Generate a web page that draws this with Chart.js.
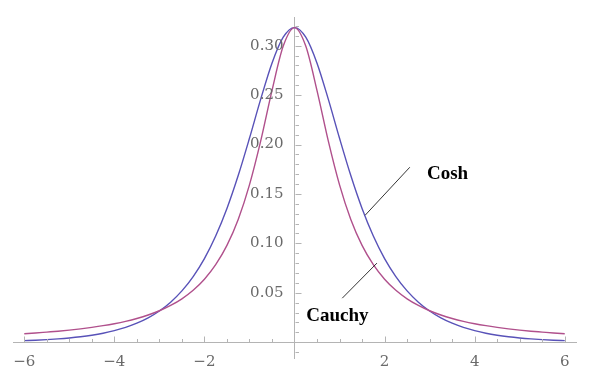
<!DOCTYPE html>
<html>
<head>
<meta charset="utf-8">
<script src="https://cdn.jsdelivr.net/npm/chart.js@4/dist/chart.umd.min.js"></script>
<style>
html,body{margin:0;padding:0;background:#fff;}
#wrap{width:589px;height:389px;position:relative;}
</style>
</head>
<body>
<div id="wrap"><canvas id="c" width="589" height="389"></canvas></div>
<script>
const xs = [-6,-5.75,-5.5,-5.25,-5,-4.75,-4.5,-4.25,-4,-3.75,-3.5,-3.25,-3,-2.75,-2.5,-2.25,-2,-1.75,-1.5,-1.25,-1,-0.75,-0.5,-0.25,0,0.25,0.5,0.75,1,1.25,1.5,1.75,2,2.25,2.5,2.75,3,3.25,3.5,3.75,4,4.25,4.5,4.75,5,5.25,5.5,5.75,6];
const cosh = [0.00158,0.00203,0.00260,0.00334,0.00429,0.00551,0.00707,0.00908,0.0117,0.0150,0.0192,0.0246,0.0316,0.0405,0.0519,0.0664,0.0846,0.1074,0.1353,0.1686,0.2063,0.2459,0.2823,0.3086,0.3183,0.3086,0.2823,0.2459,0.2063,0.1686,0.1353,0.1074,0.0846,0.0664,0.0519,0.0405,0.0316,0.0246,0.0192,0.0150,0.0117,0.00908,0.00707,0.00551,0.00429,0.00334,0.00260,0.00203,0.00158];
const cauchy = [0.0086,0.0093,0.0102,0.0111,0.0122,0.0135,0.0150,0.0167,0.0187,0.0211,0.0240,0.0275,0.0318,0.0372,0.0439,0.0525,0.0637,0.0784,0.0979,0.1242,0.1592,0.2037,0.2546,0.2996,0.3183,0.2996,0.2546,0.2037,0.1592,0.1242,0.0979,0.0784,0.0637,0.0525,0.0439,0.0372,0.0318,0.0275,0.0240,0.0211,0.0187,0.0167,0.0150,0.0135,0.0122,0.0111,0.0102,0.0093,0.0086];
const xTickLabels = [-6,-4,-2,2,4,6];
const yTickLabels = [0.05,0.10,0.15,0.20,0.25,0.30];
const xMinorTicks = [-6,-5.5,-5,-4.5,-4,-3.5,-3,-2.5,-2,-1.5,-1,-0.5,0.5,1,1.5,2,2.5,3,3.5,4,4.5,5,5.5,6];
const yMinorTicks = [-0.01,0.01,0.02,0.03,0.04,0.05,0.06,0.07,0.08,0.09,0.10,0.11,0.12,0.13,0.14,0.15,0.16,0.17,0.18,0.19,0.20,0.21,0.22,0.23,0.24,0.25,0.26,0.27,0.28,0.29,0.30,0.31,0.32];

const AXIS = '#b4b4b4';
const LABEL = '#6a6a6a';

const annot = {
  id: 'annot',
  afterDraw(chart) {
    const ctx = chart.ctx, sx = chart.scales.x, sy = chart.scales.y;
    const X = v => sx.getPixelForValue(v), Y = v => sy.getPixelForValue(v);
    ctx.save();
    ctx.strokeStyle = AXIS; ctx.lineWidth = 1;
    const x0 = Math.round(X(0)) + 0.5, y0 = Math.round(Y(0)) + 0.5;
    ctx.beginPath();
    xMinorTicks.forEach(v => {
      const major = xTickLabels.includes(v);
      const px = Math.round(X(v)) + 0.5;
      ctx.moveTo(px, y0); ctx.lineTo(px, y0 - (major ? 6 : 3.5));
    });
    yMinorTicks.forEach(v => {
      const major = Math.abs(Math.round(v * 100) % 5) === 0;
      const py = Math.round(Y(v)) + 0.5;
      ctx.moveTo(x0, py); ctx.lineTo(x0 + (major ? 6 : 3.5), py);
    });
    ctx.stroke();
    // y tick labels
    ctx.fillStyle = LABEL;
    ctx.font = '15px "DejaVu Serif"';
    ctx.textAlign = 'right'; ctx.textBaseline = 'middle';
    yTickLabels.forEach(v => ctx.fillText(v.toFixed(2), X(0) - 11, Y(v)));
    // annotations
    ctx.strokeStyle = '#000'; ctx.lineWidth = 0.8;
    ctx.beginPath();
    ctx.moveTo(X(1.57), Y(0.1285)); ctx.lineTo(X(2.56), Y(0.177));
    ctx.moveTo(X(1.06), Y(0.0445)); ctx.lineTo(X(1.83), Y(0.080));
    ctx.stroke();
    ctx.fillStyle = '#000';
    ctx.font = 'bold 19px "Liberation Serif"';
    ctx.textBaseline = 'middle'; ctx.textAlign = 'left';
    ctx.fillText('Cosh', X(2.94), Y(0.170));
    ctx.fillText('Cauchy', X(0.26), Y(0.026));
    ctx.restore();
  }
};

new Chart(document.getElementById('c'), {
  type: 'line',
  data: {
    datasets: [
      { label: 'Cauchy', data: xs.map((x, i) => ({x, y: cauchy[i]})), borderColor: '#b0508c', borderWidth: 1.4, pointRadius: 0, fill: false, cubicInterpolationMode: 'monotone' },
      { label: 'Cosh', data: xs.map((x, i) => ({x, y: cosh[i]})), borderColor: '#5852b8', borderWidth: 1.4, pointRadius: 0, fill: false, cubicInterpolationMode: 'monotone' }
    ]
  },
  options: {
    responsive: false,
    animation: false,
    events: [],
    layout: { padding: { left: 13, right: 13, top: 17, bottom: 31 } },
    plugins: { legend: { display: false }, tooltip: { enabled: false } },
    scales: {
      x: {
        type: 'linear', min: -6.25, max: 6.25,
        position: { y: 0 },
        afterFit: s => { s.height = 0; },
        afterBuildTicks: s => { s.ticks = xTickLabels.map(v => ({ value: v })); },
        grid: { display: false, drawTicks: false },
        border: { display: true, color: AXIS, width: 1 },
        ticks: { autoSkip: false, maxRotation: 0, padding: 11, color: LABEL, font: { family: 'DejaVu Serif', size: 15 },
          callback: v => (v < 0 ? '\u2212' + Math.abs(v) : String(v)) }
      },
      y: {
        type: 'linear', min: -0.016, max: 0.329,
        position: { x: 0 },
        afterFit: s => { s.width = 0; },
        afterBuildTicks: s => { s.ticks = yTickLabels.map(v => ({ value: v })); },
        grid: { display: false, drawTicks: false },
        border: { display: true, color: AXIS, width: 1 },
        ticks: { display: false }
      }
    }
  },
  plugins: [annot]
});
</script>
</body>
</html>
